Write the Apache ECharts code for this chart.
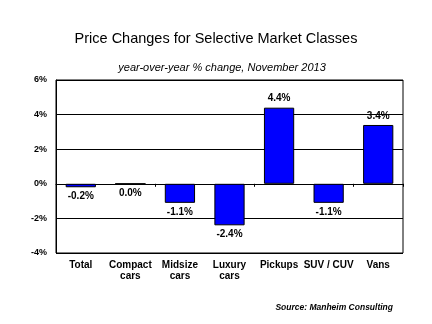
<!DOCTYPE html>
<html><head><meta charset="utf-8">
<script src="https://cdn.jsdelivr.net/npm/echarts@6/dist/echarts.min.js"></script>
<style>html,body{margin:0;padding:0;background:#fff}#c{width:432px;height:324px}</style>
</head><body><div id="c"></div>
<script>
var categories = ['Total', 'Compact\ncars', 'Midsize\ncars', 'Luxury\ncars', 'Pickups', 'SUV / CUV', 'Vans'];
var values = [-0.2, 0.0, -1.1, -2.4, 4.4, -1.1, 3.4];
var yTicks = [-4, -2, 0, 2, 4, 6];
var titleText = 'Price Changes for Selective Market Classes';
var subtitleText = 'year-over-year % change, November 2013';
var sourceText = 'Source: Manheim Consulting';

var chart = echarts.init(document.getElementById('c'), null, {renderer: 'canvas'});
var F = 'Liberation Sans, Arial, sans-serif';
chart.setOption({
  animation: false,
  backgroundColor: '#fff',
  title: [
    {text: titleText, left: 'center', top: 26, textStyle: {fontFamily: F, fontSize: 14.5, fontWeight: 'normal', color: '#000'}},
    {text: subtitleText, left: 217, textAlign: 'center', top: 57, textStyle: {fontFamily: F, fontSize: 11, fontStyle: 'italic', fontWeight: 'normal', color: '#000'}},
    {text: sourceText, right: 34, top: 298, textStyle: {fontFamily: F, fontSize: 8.5, fontStyle: 'italic', fontWeight: 'bold', color: '#000'}}
  ],
  grid: {left: 56, right: 29, top: 80, bottom: 71, show: true, borderColor: '#000', borderWidth: 1},
  xAxis: [
    {type: 'category', data: categories, axisLine: {onZero: true, lineStyle: {color: '#000', width: 1}},
     axisTick: {show: true, inside: false, length: 3, lineStyle: {color: '#000'}}, axisLabel: {show: false}},
    {type: 'category', data: categories, position: 'bottom', axisLine: {show: false}, axisTick: {show: false},
     axisLabel: {show: true, margin: 7, interval: 0, fontFamily: F, fontSize: 10, fontWeight: 'bold', color: '#000', lineHeight: 11}}
  ],
  yAxis: {type: 'value', min: yTicks[0], max: yTicks[yTicks.length - 1], interval: 2,
    axisLine: {show: true, lineStyle: {color: '#000'}}, axisTick: {show: false},
    splitLine: {show: true, lineStyle: {color: '#000', width: 1}},
    axisLabel: {margin: 9, fontFamily: F, fontSize: 9, fontWeight: 'bold', color: '#000', formatter: function (v) { return v + '%'; }}},
  series: [{
    type: 'bar', xAxisIndex: 0, barWidth: '61%',
    data: values.map(function (v) { return {value: v, label: {position: v <= 0 ? 'bottom' : 'top'}}; }),
    itemStyle: {color: '#0000FF', borderColor: '#000', borderWidth: 1},
    label: {show: true, fontFamily: F, fontSize: 10, fontWeight: 'bold', color: '#000', distance: 4,
      formatter: function (p) { return p.value.toFixed(1) + '%'; }}
  }]
});
</script></body></html>
